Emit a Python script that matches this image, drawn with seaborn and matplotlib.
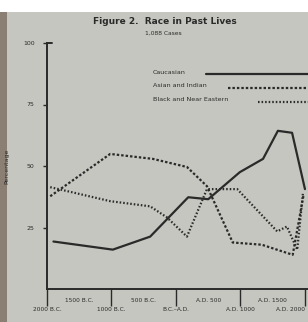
import matplotlib
matplotlib.use("Agg")
import matplotlib.pyplot as plt
from matplotlib.lines import Line2D
from matplotlib.patches import Rectangle
import seaborn as sns
import pandas as pd

# ---- data (years: negative = B.C.) ----
cauc_years = [-1900, -980, -400, 190, 500, 990, 1350, 1580, 1800, 2000]
cauc_pct = [19.3, 16.0, 21.3, 37.3, 36.5, 47.5, 52.9, 64.3, 63.5, 40.6]

asian_years = [-1950, -1020, -360, 170, 480, 880, 1330, 1810, 1980]
asian_pct = [37.7, 54.9, 52.9, 49.6, 41.8, 18.9, 18.0, 13.9, 38.5]

black_years = [-1950, -1020, -400, -140, 170, 480, 950, 1570, 1720, 1880, 1970]
black_pct = [41.4, 35.7, 33.6, 29.1, 21.3, 40.6, 40.6, 23.4, 25.4, 16.0, 39.3]

series_names = ["Caucasian", "Asian and Indian", "Black and Near Eastern"]

y_ticks = [25, 50, 75, 100]
x_lower_ticks = [-2000, -1000, 0, 1000, 2000]
x_lower_labels = ["2000 B.C.", "1000 B.C.", "B.C.\u2013A.D.", "A.D. 1000", "A.D. 2000"]
x_upper_ticks = [-1500, -500, 500, 1500]
x_upper_labels = ["1500 B.C.", "500 B.C.", "A.D. 500", "A.D. 1500"]

title = "Figure 2.  Race in Past Lives"
subtitle = "1,088 Cases"
ylabel = "Percentage"

df = pd.concat([
    pd.DataFrame({"year": cauc_years, "pct": cauc_pct, "race": series_names[0]}),
    pd.DataFrame({"year": asian_years, "pct": asian_pct, "race": series_names[1]}),
    pd.DataFrame({"year": black_years, "pct": black_pct, "race": series_names[2]}),
])

sns.set_style("white")
plt.rcParams["font.family"] = ["DejaVu Sans"]

W, H = 308, 322
bg = "#c6c6c0"
ink = "#2a2a2a"
fig = plt.figure(figsize=(W / 100, H / 100), dpi=100, facecolor=bg)
# paper top (white) and dark book edge on the left
fig.add_artist(Rectangle((0, 1 - 12 / H), 1, 12 / H, transform=fig.transFigure,
                         facecolor="white", edgecolor="none", zorder=0))
fig.add_artist(Rectangle((0, 0), 7 / W, 1 - 12 / H, transform=fig.transFigure,
                         facecolor="#8a7f72", edgecolor="none", zorder=0))

ax = fig.add_axes([47 / W, 1 - 289 / H, (W - 47) / W, (289 - 43) / H])
ax.set_facecolor("none")

dash_a = (1.1, 0.9)
dash_b = (0.7, 0.9)
styles = {series_names[0]: "", series_names[1]: dash_a, series_names[2]: dash_b}
palette = {n: ink for n in series_names}
sns.lineplot(data=df, x="year", y="pct", hue="race", style="race", dashes=styles,
             palette=palette, sort=False, legend=False, ax=ax, linewidth=1.6)

ax.set_xlim(-2000, 2047)
ax.set_ylim(0, 100)
ax.set_xlabel("")
ax.set_ylabel(ylabel, fontsize=4.5, color=ink, labelpad=10)

for s in ["top", "right"]:
    ax.spines[s].set_visible(False)
for s in ["left", "bottom"]:
    ax.spines[s].set_color(ink)
    ax.spines[s].set_linewidth(1.4)

ax.set_yticks(y_ticks)
ax.set_yticklabels([str(v) for v in y_ticks], fontsize=4.5, color=ink)
ax.tick_params(axis="y", length=3, width=1, color=ink, pad=6, direction="out", left=True)

ax.set_xticks(x_lower_ticks)
ax.set_xticklabels(x_lower_labels, fontsize=4.2, color=ink)
ax.tick_params(axis="x", length=12, width=1, color=ink, pad=1, direction="out", bottom=True)
last = ax.get_xticklabels()[-1]
last.set_horizontalalignment("right")
ax.set_xticks(x_upper_ticks, minor=True)
ax.tick_params(axis="x", which="minor", length=0)
for xv, lab in zip(x_upper_ticks, x_upper_labels):
    ax.annotate(lab, xy=(xv, 0), xycoords=("data", "axes fraction"),
                xytext=(0, -8), textcoords="offset points",
                ha="center", va="center", fontsize=4.2, color=ink)

# cap on the top of y axis
ax.plot([0, 0.02], [1, 1], transform=ax.transAxes, color=ink, lw=1.4, clip_on=False)

fig.text(165 / W, 1 - 21 / H, title, ha="center", va="center", fontsize=6.5,
         fontweight="bold", color=ink)
fig.text(163 / W, 1 - 33 / H, subtitle, ha="center", va="center", fontsize=4.3, color=ink)

# legend drawn as text + sample lines
leg = [
    (series_names[0], 153, 72, 206, ""),
    (series_names[1], 153, 86, 228, dash_a),
    (series_names[2], 153, 100, 258, dash_b),
]
for name, tx, ty, lx0, dash in leg:
    fig.text(tx / W, 1 - ty / H, name, ha="left", va="center", fontsize=4.6, color=ink)
    ln = Line2D([lx0 / W, 1.0], [1 - (ty + 2) / H, 1 - (ty + 2) / H],
                transform=fig.transFigure, color=ink, lw=1.6)
    if dash:
        ln.set_dashes(dash)
    fig.add_artist(ln)

fig.savefig("out.png", dpi=100, facecolor=bg)
